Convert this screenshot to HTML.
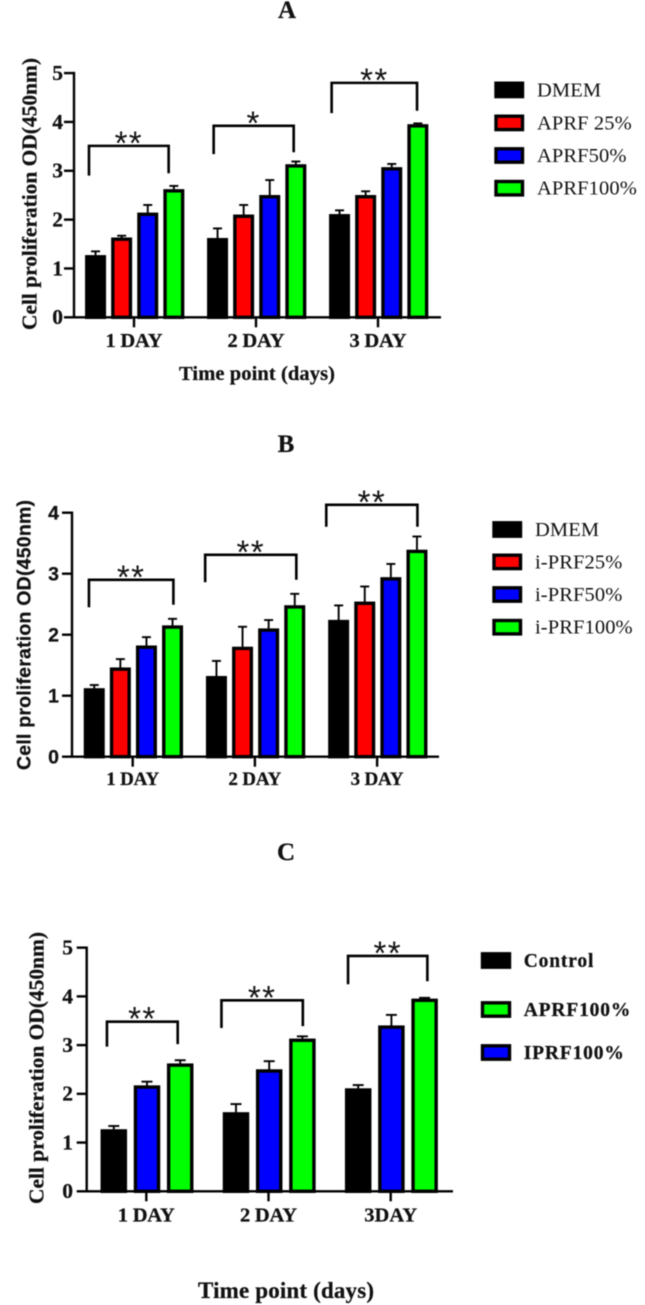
<!DOCTYPE html>
<html lang="en">
<head>
<meta charset="utf-8">
<title>Cell proliferation charts</title>
<style>
html,body{margin:0;padding:0;background:#fff;}
#figure{display:block;position:absolute;left:0;top:0;width:645px;height:1305px;filter:blur(0.5px);}
.serif{font-family:"Liberation Serif",serif;}
.sans{font-family:"Liberation Sans",sans-serif;}
.bold{font-weight:bold;stroke:#111;stroke-width:0.25px;}
text{fill:#111;}
</style>
</head>
<body>
<svg id="figure" xmlns="http://www.w3.org/2000/svg" width="645" height="1305" viewBox="0 0 645 1305">
  <rect x="0" y="0" width="645" height="1305" fill="#ffffff"/>

  <text class="serif bold" x="287" y="18" font-size="25" text-anchor="middle">A</text>
  <text class="serif bold" x="286" y="452" font-size="25" text-anchor="middle">B</text>
  <text class="serif bold" x="286" y="860" font-size="25" text-anchor="middle">C</text>

  <text class="serif bold" transform="translate(36.5,330) rotate(-90)" font-size="21.5" textLength="272" lengthAdjust="spacing">Cell proliferation OD(450nm)</text>
  <text class="sans bold" transform="translate(30.5,770) rotate(-90)" font-size="19.5" textLength="270" lengthAdjust="spacing">Cell proliferation OD(450nm)</text>
  <text class="serif bold" transform="translate(43.5,1204) rotate(-90)" font-size="21.5" textLength="272" lengthAdjust="spacing">Cell proliferation OD(450nm)</text>

  <text class="serif bold" x="257" y="380" font-size="20.5" text-anchor="middle" textLength="156" lengthAdjust="spacing">Time point (days)</text>
  <text class="serif bold" x="286" y="1298" font-size="23" text-anchor="middle" textLength="176" lengthAdjust="spacing">Time point (days)</text>

  <g id="plots"></g>
</svg>
<script>
// ---------- Panel A data ----------
const aCategories = ['1 DAY', '2 DAY', '3 DAY'];
const aTickLabels = [0, 1, 2, 3, 4, 5];
const aDmem = [1.27, 1.62, 2.11];
const aDmemErr = [0.08, 0.20, 0.08];
const aPrf25 = [1.63, 2.10, 2.50];
const aPrf25Err = [0.04, 0.20, 0.08];
const aPrf50 = [2.14, 2.50, 3.07];
const aPrf50Err = [0.16, 0.31, 0.07];
const aPrf100 = [2.62, 3.13, 3.95];
const aPrf100Err = [0.07, 0.06, 0.02];
const aLegend = ['DMEM', 'APRF 25%', 'APRF50%', 'APRF100%'];
const aSig = ['**', '*', '**'];
const aBracketTop = [3.51, 3.92, 4.80];
const aBracketLeftEnd = [2.90, 3.34, 4.18];
const aBracketRightEnd = [2.95, 3.38, 4.23];
const aBracketFrom = [-0.369, -0.347, -0.380];
const aBracketTo = [0.284, 0.309, 0.320];

// ---------- Panel B data ----------
const bCategories = ['1 DAY', '2 DAY', '3 DAY'];
const bTickLabels = [0, 1, 2, 3, 4];
const bDmem = [1.12, 1.32, 2.24];
const bDmemErr = [0.055, 0.25, 0.24];
const bPrf25 = [1.46, 1.80, 2.54];
const bPrf25Err = [0.14, 0.33, 0.25];
const bPrf50 = [1.82, 2.10, 2.94];
const bPrf50Err = [0.14, 0.14, 0.22];
const bPrf100 = [2.15, 2.48, 3.39];
const bPrf100Err = [0.11, 0.19, 0.22];
const bLegend = ['DMEM', 'i-PRF25%', 'i-PRF50%', 'i-PRF100%'];
const bSig = ['**', '**', '**'];
const bBracketTop = [2.90, 3.31, 4.13];
const bBracketLeftEnd = [2.45, 2.86, 3.77];
const bBracketRightEnd = [2.49, 2.90, 3.77];
const bBracketFrom = [-0.358, -0.407, -0.416];
const bBracketTo = [0.333, 0.339, 0.330];

// ---------- Panel C data ----------
const cCategories = ['1 DAY', '2 DAY', '3DAY'];
const cTickLabels = [0, 1, 2, 3, 4, 5];
const cControl = [1.27, 1.62, 2.11];
const cControlErr = [0.07, 0.17, 0.07];
const cIprf100 = [2.17, 2.50, 3.40];
const cIprf100Err = [0.08, 0.17, 0.22];
const cAprf100 = [2.62, 3.13, 3.95];
const cAprf100Err = [0.07, 0.05, 0.02];
const cLegend = ['Control', 'APRF100%', 'IPRF100%'];
const cSig = ['**', '**', '**'];
const cBracketTop = [3.48, 3.92, 4.83];
const cBracketLeftEnd = [2.97, 3.35, 4.25];
const cBracketRightEnd = [3.02, 3.39, 4.31];
const cBracketFrom = [-0.322, -0.385, -0.349];
const cBracketTo = [0.257, 0.281, 0.300];

const BLACK = '#000000', RED = '#ff0000', BLUE = '#0000ff', GREEN = '#00ff00';

const panels = [
  {
    id: 'a', categories: aCategories, ticks: aTickLabels,
    series: [
      { key: 'dmem', values: aDmem, errors: aDmemErr, fill: BLACK },
      { key: 'aprf25', values: aPrf25, errors: aPrf25Err, fill: RED },
      { key: 'aprf50', values: aPrf50, errors: aPrf50Err, fill: BLUE },
      { key: 'aprf100', values: aPrf100, errors: aPrf100Err, fill: GREEN }
    ],
    legend: aLegend, legendFills: [BLACK, RED, BLUE, GREEN],
    sig: aSig, top: aBracketTop, leftEnd: aBracketLeftEnd, rightEnd: aBracketRightEnd, from: aBracketFrom, to: aBracketTo,
    axisX: 74, y0: 317.3, yUnit: 48.84, xEnd: 441, firstTick: 134, tickStep: 122,
    barStep: 26.1, barW: 21, capW: 9, tickFont: 'serif', tickSize: 21.5, tickRight: 63,
    catBaseline: 347, catWidth: 57, catSize: 20.5,
    legendX: 494.5, legendW: 29.5, legendH: 16.4, legendTextX: 537, legendRows: [81.7, 114.7, 147.3, 180],
    legendSize: 20.5, legendBold: false, legendSpacing: 0.1
  },
  {
    id: 'b', categories: bCategories, ticks: bTickLabels,
    series: [
      { key: 'dmem', values: bDmem, errors: bDmemErr, fill: BLACK },
      { key: 'iprf25', values: bPrf25, errors: bPrf25Err, fill: RED },
      { key: 'iprf50', values: bPrf50, errors: bPrf50Err, fill: BLUE },
      { key: 'iprf100', values: bPrf100, errors: bPrf100Err, fill: GREEN }
    ],
    legend: bLegend, legendFills: [BLACK, RED, BLUE, GREEN],
    sig: bSig, top: bBracketTop, leftEnd: bBracketLeftEnd, rightEnd: bBracketRightEnd, from: bBracketFrom, to: bBracketTo,
    axisX: 72, y0: 756.7, yUnit: 61, xEnd: 439, firstTick: 132.7, tickStep: 122.2,
    barStep: 26.1, barW: 21, capW: 9, tickFont: 'sans', tickSize: 19.5, tickRight: 59,
    catBaseline: 785, catWidth: 53, catSize: 19,
    legendX: 492.5, legendW: 29.5, legendH: 16.4, legendTextX: 535, legendRows: [521.3, 553.7, 586.3, 619],
    legendSize: 20.5, legendBold: false, legendSpacing: 0.1
  },
  {
    id: 'c', categories: cCategories, ticks: cTickLabels,
    series: [
      { key: 'control', values: cControl, errors: cControlErr, fill: BLACK },
      { key: 'iprf100', values: cIprf100, errors: cIprf100Err, fill: BLUE },
      { key: 'aprf100', values: cAprf100, errors: cAprf100Err, fill: GREEN }
    ],
    legend: cLegend, legendFills: [BLACK, GREEN, BLUE],
    sig: cSig, top: cBracketTop, leftEnd: cBracketLeftEnd, rightEnd: cBracketRightEnd, from: cBracketFrom, to: cBracketTo,
    axisX: 86.7, y0: 1191.3, yUnit: 48.73, xEnd: 453, firstTick: 146.3, tickStep: 122.2,
    barStep: 33.2, barW: 26.5, capW: 11, tickFont: 'serif', tickSize: 21.5, tickRight: 73,
    catBaseline: 1221.7, catWidth: 57, catSize: 20.5,
    legendX: 481, legendW: 30, legendH: 16.4, legendTextX: 523.7, legendRows: [952.3, 1001.3, 1044.3],
    legendSize: 19.5, legendBold: true, legendSpacing: 0.85
  }
];

const SVG_NS = 'http://www.w3.org/2000/svg';
const BAR_STROKE = 3.4;

function make(parent, tag, attrs, textValue) {
  const node = document.createElementNS(SVG_NS, tag);
  Object.keys(attrs).forEach(function (k) { node.setAttribute(k, attrs[k]); });
  if (textValue !== undefined) node.textContent = textValue;
  parent.appendChild(node);
  return node;
}

const root = document.getElementById('plots');

panels.forEach(function (p) {
  const yScale = function (v) { return p.y0 - v * p.yUnit; };
  const xScale = function (pos) { return p.firstTick + pos * p.tickStep; };
  const barCenter = function (cat, s) {
    return xScale(cat) + 0.7 + (s - (p.series.length - 1) / 2) * p.barStep;
  };

  const panel = make(root, 'g', {});
  
  

  // bars and error bars
  p.series.forEach(function (s, si) {
    s.values.forEach(function (v, ci) {
      const cx = barCenter(ci, si);
      const topY = yScale(v);
      const errY = yScale(v + s.errors[ci]);

      const stem = make(panel, 'line', { x1: cx, x2: cx, y1: topY, y2: errY, stroke: '#000', 'stroke-width': 1.9 });
      
      

      const cap = make(panel, 'line', { x1: cx - p.capW / 2, x2: cx + p.capW / 2, y1: errY, y2: errY, stroke: '#000', 'stroke-width': 1.9 });
      
      

      const bar = make(panel, 'rect', {
        x: cx - p.barW / 2 + BAR_STROKE / 2, y: topY + 1.5, width: p.barW - BAR_STROKE,
        height: Math.max(0, p.y0 - topY - 1.5), fill: s.fill, stroke: '#000', 'stroke-width': BAR_STROKE
      });
      
      
    });
  });

  // axes
  const maxTick = p.ticks[p.ticks.length - 1];
  const yAxis = make(panel, 'line', { x1: p.axisX, x2: p.axisX, y1: yScale(maxTick) - 1.2, y2: p.y0 + 1, stroke: '#000', 'stroke-width': 2.4 });
  
  

  const xAxis = make(panel, 'line', { x1: p.axisX - 10, x2: p.xEnd, y1: p.y0, y2: p.y0, stroke: '#000', 'stroke-width': 2.4 });
  
  

  p.ticks.forEach(function (t) {
    const y = yScale(t);
    if (t !== 0) {
      const mark = make(panel, 'line', { x1: p.axisX - 10, x2: p.axisX, y1: y, y2: y, stroke: '#000', 'stroke-width': 2.4 });
      
      
    }
    const label = make(panel, 'text', {
      x: p.tickRight, y: y + 6.9, 'text-anchor': 'end', 'font-size': p.tickSize, 'class': p.tickFont + ' bold'
    }, String(t));
    
    
  });

  p.categories.forEach(function (c, i) {
    const x = xScale(i);
    const mark = make(panel, 'line', { x1: x, x2: x, y1: p.y0, y2: p.y0 + 10, stroke: '#000', 'stroke-width': 2.4 });
    
    

    const label = make(panel, 'text', {
      x: x, y: p.catBaseline, 'text-anchor': 'middle', 'font-size': p.catSize, 'class': 'serif bold',
      textLength: c.length === 4 ? p.catWidth - 4 : p.catWidth, lengthAdjust: 'spacing'
    }, c);
    
    
  });

  // significance brackets
  p.sig.forEach(function (stars, i) {
    const xl = xScale(i + p.from[i]);
    const xr = xScale(i + p.to[i]);
    const yt = yScale(p.top[i]);
    const bracket = make(panel, 'polyline', {
      points: xl + ',' + yScale(p.leftEnd[i]) + ' ' + xl + ',' + yt + ' ' + xr + ',' + yt + ' ' + xr + ',' + yScale(p.rightEnd[i]),
      fill: 'none', stroke: '#000', 'stroke-width': 2.6
    });
    
    

    const mark = make(panel, 'text', {
      x: (xl + xr) / 2, y: yt + 8.5, 'text-anchor': 'middle', 'font-size': 33, 'class': 'sans',
      'letter-spacing': 1.4
    }, stars);
    
    
  });

  // legend
  p.legend.forEach(function (name, i) {
    const rowY = p.legendRows[i];
    const swatch = make(panel, 'rect', {
      x: p.legendX + 1.5, y: rowY + 1.5, width: p.legendW - 3, height: p.legendH - 3,
      fill: p.legendFills[i], stroke: '#000', 'stroke-width': 3.4
    });
    
    

    const label = make(panel, 'text', {
      x: p.legendTextX, y: rowY + 14.6, 'font-size': p.legendSize,
      'class': p.legendBold ? 'serif bold' : 'serif', 'letter-spacing': p.legendSpacing
    }, name);
    
    
  });
});
</script>
</body>
</html>
